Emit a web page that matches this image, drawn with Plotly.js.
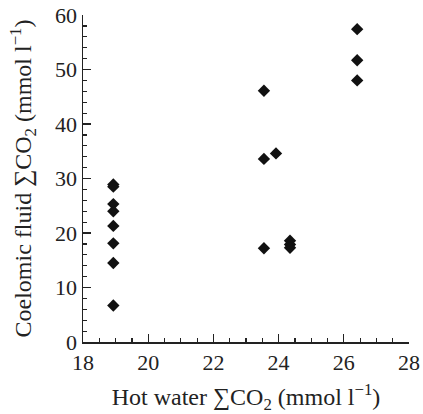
<!DOCTYPE html>
<html>
<head>
<meta charset="utf-8">
<script src="https://cdn.plot.ly/plotly-3.0.1.min.js"></script>
<style>html,body{margin:0;padding:0;background:#fff;}#chart{width:423px;height:414px;}</style>
</head>
<body>
<div id="chart"></div>
<script>
const hotWater = [18.93, 18.93, 18.93, 18.93, 18.93, 18.93, 18.93, 18.93,
                  23.55, 23.55, 23.55, 23.92,
                  24.35, 24.35, 24.35,
                  26.41, 26.41, 26.41];
const coelomic = [28.9, 28.5, 25.3, 24.0, 21.3, 18.1, 14.5, 6.7,
                  46.1, 33.6, 17.2, 34.6,
                  18.6, 17.9, 17.3,
                  57.4, 51.7, 48.0];
const xTicks = [18, 20, 22, 24, 26, 28];
const yTicks = [0, 10, 20, 30, 40, 50, 60];

const font = "Liberation Serif, Times New Roman, serif";
const axisColor = "#222";

Plotly.newPlot("chart", [{
  x: hotWater,
  y: coelomic,
  type: "scatter",
  mode: "markers",
  marker: {symbol: "diamond", size: 9.5, color: "#111"},
  cliponaxis: false,
  hoverinfo: "skip"
}], {
  width: 423, height: 414,
  margin: {l: 83, r: 14, t: 15, b: 72},
  paper_bgcolor: "#fff", plot_bgcolor: "#fff",
  showlegend: false,
  font: {family: font, size: 22, color: "#222"},
  xaxis: {
    range: [18, 28], tickvals: xTicks, ticktext: xTicks.map(String),
    showgrid: false, zeroline: false,
    showline: true, linecolor: axisColor, linewidth: 1.5,
    ticks: "inside", ticklen: 8, tickwidth: 1.3, tickcolor: axisColor,
    minor: {dtick: 0.5, tick0: 18, ticks: "inside", ticklen: 4, tickwidth: 1.2, tickcolor: axisColor, showgrid: false},
    tickfont: {family: font, size: 22, color: "#222"},
    title: {text: "Hot water \u2211CO<sub>2</sub> (mmol l<sup>\u22121</sup>)", font: {family: font, size: 24, color: "#222"}, standoff: 17}
  },
  yaxis: {
    range: [0, 60], tickvals: yTicks, ticktext: yTicks.map(String),
    showgrid: false, zeroline: false,
    showline: true, linecolor: axisColor, linewidth: 1.5,
    ticks: "inside", ticklen: 8, tickwidth: 1.3, tickcolor: axisColor,
    minor: {dtick: 2, tick0: 0, ticks: "inside", ticklen: 4, tickwidth: 1.2, tickcolor: axisColor, showgrid: false},
    tickfont: {family: font, size: 22, color: "#222"},
    title: {text: "Coelomic fluid \u2211CO<sub>2</sub> (mmol l<sup>\u22121</sup>)", font: {family: font, size: 24, color: "#222"}, standoff: 16}
  }
}, {displayModeBar: false, staticPlot: true});
</script>
</body>
</html>
